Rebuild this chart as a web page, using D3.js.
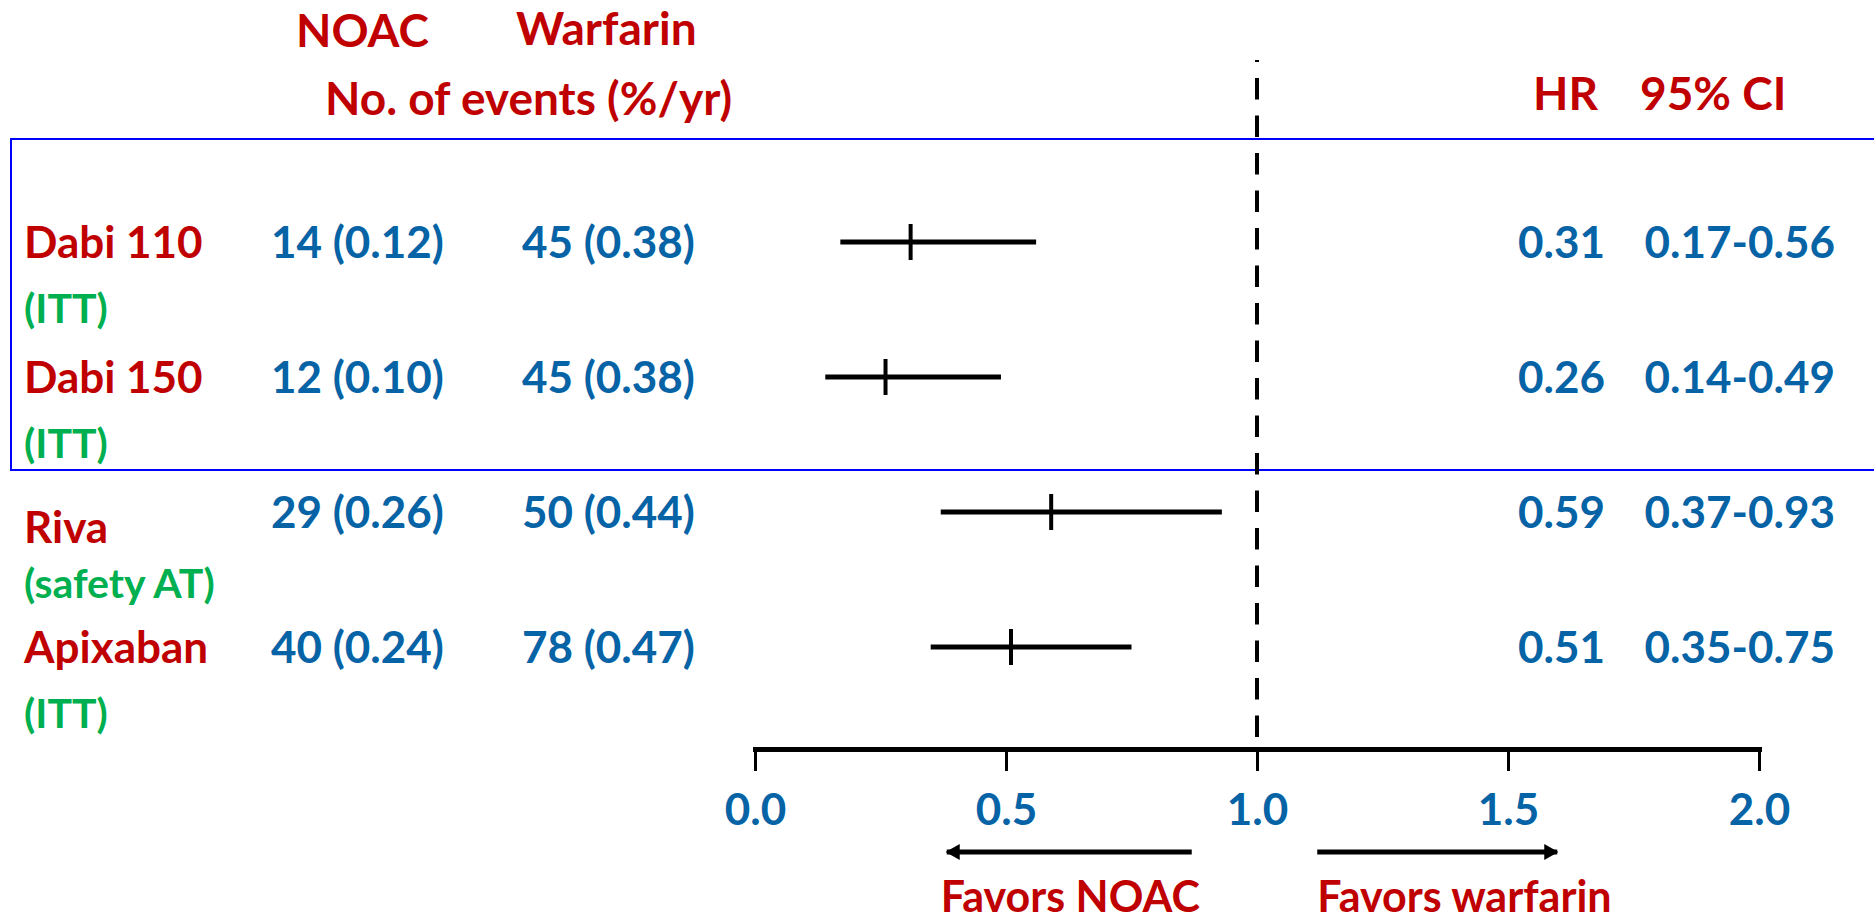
<!DOCTYPE html>
<html>
<head>
<meta charset="utf-8">
<script src="https://cdn.jsdelivr.net/npm/d3@7"></script>
<style>
  body { margin: 0; background: #fff; }
  text { font-family: Lato, "Open Sans", sans-serif; font-weight: 700; }
</style>
</head>
<body>
<div id="chart"></div>
<script>
const width = 1874, height = 920;

// data
const studies = ["Dabi 110", "Dabi 150", "Riva", "Apixaban"];
const analyses = ["(ITT)", "(ITT)", "(safety AT)", "(ITT)"];
const noacEvents = [14, 12, 29, 40];
const noacRates = [0.12, 0.1, 0.26, 0.24];
const warfEvents = [45, 45, 50, 78];
const warfRates = [0.38, 0.38, 0.44, 0.47];
const hr = [0.31, 0.26, 0.59, 0.51];
const ciLow = [0.17, 0.14, 0.37, 0.35];
const ciHigh = [0.56, 0.49, 0.93, 0.75];
const xTicks = [0, 0.5, 1, 1.5, 2];
const arrowLabels = ["Favors NOAC", "Favors warfarin"];
const arrowFrom = [0.87, 1.12];
const arrowTo = [0.37, 1.61];

const red = "#c00000", blue = "#0563a6", green = "#00b050";
const f2 = d3.format(".2f");

const svg = d3
  .select("#chart")
  .append("svg")
  .attr("width", width)
  .attr("height", height)
  .attr("viewBox", [0, 0, width, height]);

let x = d3.scaleLinear().domain([0, 2]).range([755, 1759]);
let y = d3.scalePoint().domain(studies).range([258, 663]);
const axisY = 749;

// box round the two dabigatran rows
svg
  .append("rect")
  .attr("x", 11)
  .attr("y", 139)
  .attr("width", width)
  .attr("height", 331)
  .attr("fill", "none")
  .attr("stroke", "#0000ff")
  .attr("stroke-width", 2);

// headers
const headers = svg.append("g").attr("fill", red).style("font-size", "46px");
headers.append("text").attr("x", 296).attr("y", 47).text("NOAC");
headers.append("text").attr("x", 516).attr("y", 45).text("Warfarin");
headers.append("text").attr("x", 325).attr("y", 115).text("No. of events (%/yr)");
headers.append("text").attr("x", 1533).attr("y", 110).text("HR");
headers.append("text").attr("x", 1640).attr("y", 110).text("95% CI");

// reference line at HR = 1
svg
  .append("line")
  .attr("x1", x(1))
  .attr("x2", x(1))
  .attr("y1", 60)
  .attr("y2", axisY)
  .attr("stroke", "black")
  .attr("stroke-width", 4)
  .attr("stroke-dasharray", "21.5,16")
  .attr("stroke-dashoffset", 19.5);

// x axis
const xAxis = svg
  .append("g")
  .attr("transform", `translate(0,${axisY})`)
  .call(
    d3
      .axisBottom(x)
      .tickValues(xTicks)
      .tickSize(22)
      .tickSizeOuter(0)
      .tickFormat(d3.format(".1f"))
  );
xAxis.select(".domain").attr("stroke", "black").attr("stroke-width", 5).attr("stroke-linecap", "square");
xAxis.selectAll(".tick line").attr("stroke", "black").attr("stroke-width", 3);
xAxis
  .selectAll(".tick text")
  .attr("y", 76)
  .attr("dy", 0)
  .attr("fill", blue)
  .style("font-family", "Lato, sans-serif")
  .style("font-weight", 700)
  .style("font-size", "44px");

// rows
const rows = svg
  .selectAll("g.row")
  .data(studies)
  .join("g")
  .attr("class", "row")
  .style("font-size", "44px");

// the two-line Riva label sits a bit lower than its numbers
const labelShift = (d) => (d === "Riva" ? 15 : 0);

rows
  .append("text")
  .attr("x", 24)
  .attr("y", (d) => y(d) + labelShift(d))
  .attr("fill", red)
  .text((d) => d);

rows
  .append("text")
  .attr("x", 24)
  .attr("y", (d) => y(d) + 65 + (labelShift(d) ? 5 : 0))
  .attr("fill", green)
  .style("font-size", "41px")
  .text((d, i) => analyses[i]);

rows
  .append("text")
  .attr("x", 271)
  .attr("y", (d) => y(d))
  .attr("fill", blue)
  .text((d, i) => `${noacEvents[i]} (${f2(noacRates[i])})`);

rows
  .append("text")
  .attr("x", 522)
  .attr("y", (d) => y(d))
  .attr("fill", blue)
  .text((d, i) => `${warfEvents[i]} (${f2(warfRates[i])})`);

rows
  .append("text")
  .attr("x", 1518)
  .attr("y", (d) => y(d))
  .attr("fill", blue)
  .text((d, i) => f2(hr[i]));

rows
  .append("text")
  .attr("x", 1835)
  .attr("y", (d) => y(d))
  .attr("text-anchor", "end")
  .attr("fill", blue)
  .text((d, i) => `${f2(ciLow[i])}-${f2(ciHigh[i])}`);

// confidence intervals
rows
  .append("line")
  .attr("x1", (d, i) => x(ciLow[i]))
  .attr("x2", (d, i) => x(ciHigh[i]))
  .attr("y1", (d) => y(d) - 16)
  .attr("y2", (d) => y(d) - 16)
  .attr("stroke", "black")
  .attr("stroke-width", 5);

// point estimates
rows
  .append("line")
  .attr("x1", (d, i) => x(hr[i]))
  .attr("x2", (d, i) => x(hr[i]))
  .attr("y1", (d) => y(d) - 34)
  .attr("y2", (d) => y(d) + 2)
  .attr("stroke", "black")
  .attr("stroke-width", 4);

// favors arrows
svg
  .append("defs")
  .append("marker")
  .attr("id", "head")
  .attr("markerUnits", "userSpaceOnUse")
  .attr("viewBox", "0 -8 14 16")
  .attr("refX", 13)
  .attr("refY", 0)
  .attr("markerWidth", 14)
  .attr("markerHeight", 16)
  .attr("orient", "auto")
  .append("path")
  .attr("d", "M0,-8L14,0L0,8Z")
  .attr("fill", "black");

const arrows = svg
  .selectAll("g.arrow")
  .data(arrowLabels)
  .join("g")
  .attr("class", "arrow");

arrows
  .append("line")
  .attr("x1", (d, i) => x(arrowFrom[i]))
  .attr("x2", (d, i) => x(arrowTo[i]) + (arrowTo[i] < arrowFrom[i] ? 6 : -6))
  .attr("y1", 852)
  .attr("y2", 852)
  .attr("stroke", "black")
  .attr("stroke-width", 5)
  .attr("marker-end", "url(#head)");

arrows
  .append("text")
  .attr("x", (d, i) => x(Math.min(arrowFrom[i], arrowTo[i])))
  .attr("y", 912)
  .attr("fill", red)
  .style("font-size", "43px")
  .text((d) => d);
</script>
</body>
</html>
